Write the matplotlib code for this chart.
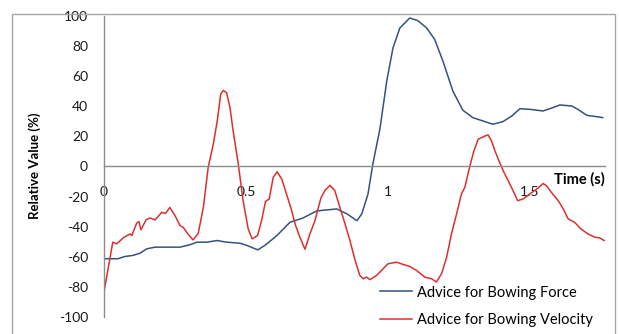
import matplotlib
matplotlib.use('Agg')
import matplotlib.pyplot as plt
from matplotlib.patches import Rectangle

plt.rcParams['font.family'] = ['Lato', 'DejaVu Sans']
plt.rcParams['axes.unicode_minus'] = False

# Advice for bowing force (relative value in %)
force_t = [0.000, 0.049, 0.074, 0.102, 0.127, 0.151, 0.180, 0.222, 0.268, 0.303,
           0.327, 0.363, 0.398, 0.433, 0.479, 0.504, 0.542, 0.570, 0.609, 0.655,
           0.701, 0.750, 0.820, 0.856, 0.891, 0.908, 0.930, 0.947, 0.972, 0.996,
           1.018, 1.042, 1.077, 1.106, 1.137, 1.165, 1.194, 1.229, 1.264, 1.299,
           1.342, 1.370, 1.405, 1.437, 1.465, 1.500, 1.546, 1.581, 1.606, 1.648,
           1.669, 1.701, 1.736, 1.757]
force_v = [-61.3, -61.3, -59.8, -59.1, -57.6, -54.7, -53.6, -53.6, -53.6, -52.0,
           -50.3, -50.3, -49.2, -50.3, -51.0, -52.5, -55.4, -52.0, -45.9, -37.1,
           -34.2, -29.5, -28.2, -31.5, -36.0, -31.5, -18.3, 1.6, 25.0, 56.8,
           78.8, 92.0, 98.7, 96.9, 92.0, 84.4, 70.0, 50.1, 37.4, 32.5,
           29.8, 28.1, 29.8, 33.6, 38.4, 38.0, 36.9, 39.1, 40.9, 40.2,
           38.0, 34.0, 33.1, 32.5]

# Advice for bowing velocity (relative value in %)
velocity_t = [0.000, 0.031, 0.045, 0.068, 0.092, 0.098, 0.115, 0.123, 0.130, 0.148,
              0.162, 0.180, 0.203, 0.217, 0.232, 0.250, 0.268, 0.279, 0.297, 0.314,
              0.332, 0.350, 0.367, 0.385, 0.399, 0.411, 0.420, 0.432, 0.444, 0.455,
              0.473, 0.490, 0.508, 0.522, 0.541, 0.555, 0.569, 0.582, 0.596, 0.610,
              0.626, 0.643, 0.661, 0.673, 0.690, 0.708, 0.725, 0.743, 0.764, 0.778,
              0.796, 0.813, 0.831, 0.849, 0.866, 0.884, 0.901, 0.913, 0.925, 0.937,
              0.960, 0.983, 1.001, 1.031, 1.054, 1.077, 1.101, 1.130, 1.154, 1.171,
              1.189, 1.207, 1.224, 1.242, 1.259, 1.271, 1.289, 1.303, 1.318, 1.342,
              1.353, 1.365, 1.377, 1.394, 1.406, 1.424, 1.441, 1.457, 1.476, 1.500,
              1.524, 1.547, 1.559, 1.576, 1.600, 1.618, 1.635, 1.658, 1.680, 1.705,
              1.729, 1.746, 1.762]
velocity_v = [-83.4, -50.3, -51.4, -47.4, -44.8, -45.9, -37.7, -36.6, -42.1, -35.5,
              -34.2, -35.5, -30.5, -31.1, -27.2, -32.6, -39.3, -40.4, -45.2, -48.8,
              -44.4, -27.2, -0.6, 14.8, 30.3, 48.0, 50.6, 49.0, 39.0, 23.6,
              1.6, -22.7, -41.5, -48.1, -45.9, -36.0, -23.2, -21.6, -7.3, -3.5,
              -8.3, -18.3, -29.3, -38.1, -47.0, -55.0, -45.0, -36.0, -21.0, -16.0,
              -12.5, -16.0, -27.2, -38.1, -49.0, -62.0, -72.4, -74.6, -73.5, -75.2,
              -72.4, -68.0, -64.6, -63.6, -65.1, -66.4, -69.1, -73.5, -74.6, -76.8,
              -71.3, -60.3, -44.8, -31.5, -18.3, -13.9, 0.5, 10.4, 18.1, 20.3,
              21.0, 17.0, 10.4, 2.6, -2.8, -9.5, -16.1, -22.7, -21.6, -18.3,
              -15.0, -11.3, -12.8, -17.2, -22.7, -28.2, -34.8, -37.1, -41.5, -44.8,
              -47.0, -47.4, -49.2]

x_ticks = [0, 0.5, 1, 1.5]
x_labels = ['0', '0.5', '1', '1.5']
y_ticks = list(range(-100, 101, 20))

fig = plt.figure(figsize=(6.19, 3.34), dpi=100)
ax = fig.add_axes([0.168, 0.051, 0.809, 0.901])

# chart area border
fig.patches.append(Rectangle((12 / 619, -0.1), 603 / 619, 1.079 - 7 / 334,
                             transform=fig.transFigure, fill=False,
                             edgecolor='#a6a6a6', linewidth=1.0))

ax.plot(force_t, force_v, color='#34527e', linewidth=1.1, label='Advice for Bowing Force')
ax.plot(velocity_t, velocity_v, color='#dc2f2f', linewidth=1.1, label='Advice for Bowing Velocity')

ax.set_xlim(0, 1.764)
ax.set_ylim(-100, 100)

ax.spines['top'].set_visible(False)
ax.spines['right'].set_visible(False)
ax.spines['bottom'].set_position(('data', 0))
for s in ('left', 'bottom'):
    ax.spines[s].set_color('#8c8c8c')
    ax.spines[s].set_linewidth(1.0)

ax.set_xticks(x_ticks)
ax.set_xticklabels(x_labels)
ax.set_yticks(y_ticks)
ax.tick_params(axis='y', length=0, pad=11.5, labelsize=10, labelcolor='#1a1a1a')
ax.tick_params(axis='x', length=0, pad=14, labelsize=10, labelcolor='#1a1a1a')

fig.text(35 / 619, 1 - 166 / 334, 'Relative Value (%)', rotation=90,
         ha='center', va='center', fontsize=9.5, fontweight='bold')
fig.text(605 / 619, 1 - 179 / 334, 'Time (s)', ha='right', va='center',
         fontsize=10.5, fontweight='bold')

ax.legend(loc='center left', bbox_to_anchor=(380 / 619, 1 - 306.5 / 334),
          bbox_transform=fig.transFigure, frameon=False, fontsize=10.5,
          handlelength=2.2, handletextpad=0.35, labelspacing=0.95,
          borderpad=0, borderaxespad=0)

fig.savefig('out.png', dpi=100)
